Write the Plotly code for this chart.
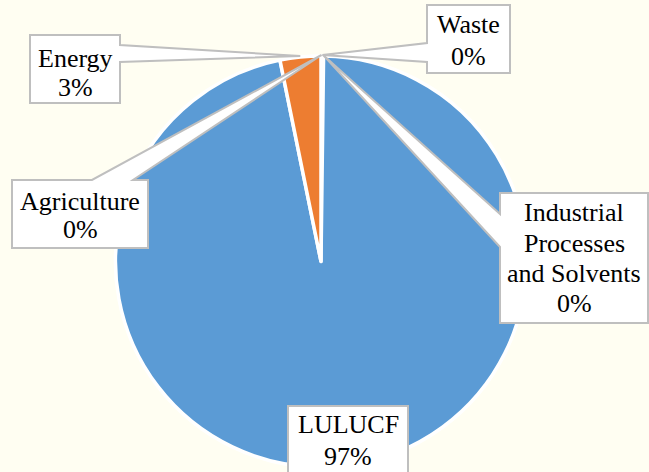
import math
import plotly.graph_objects as go

# ---- data ----
categories = ["Agriculture", "Waste", "Industrial<br>Processes<br>and Solvents", "LULUCF", "Energy"]
values = [0.08, 0.05, 0.07, 96.6, 3.2]
colors = ["#A5A5A5", "#FFC000", "#4472C4", "#5B9BD5", "#ED7D31"]

# ---- layout (pixels) ----
W, H = 649, 472
CX, CY, R = 321.0, 261.5, 205.5
BG = "#FFFEF2"
FONT = "Liberation Serif, Times New Roman, serif"
FS = 26

def px(x):
    return x / W

def py(y):
    return 1 - y / H

# callout boxes: box (x0, y0, x1, y1), tail (side, b0, b1), text centre x, baselines
callouts = {
    "Agriculture": dict(box=(12, 180, 148, 248), tail=("top", 92, 133), cx=80, base=[210, 238]),
    "Waste": dict(box=(427, 5, 510, 73), tail=("left", 43, 62), cx=468.5, base=[33, 65]),
    "Industrial<br>Processes<br>and Solvents": dict(box=(500, 193, 648, 323), tail=("left", 214, 247), cx=574,
                                                   base=[221, 252, 282, 312]),
    "LULUCF": dict(box=(288, 406, 408, 485), tail=None, cx=348, base=[433, 465]),
    "Energy": dict(box=(30, 35, 120, 103), tail=("right", 45, 62), cx=75, base=[67, 96]),
}

fig = go.Figure()
fig.add_trace(go.Pie(
    labels=categories, values=values, sort=False, direction="clockwise", rotation=0,
    marker=dict(colors=colors, line=dict(color="white", width=3.5)),
    textinfo="none", hoverinfo="label+percent", showlegend=False,
    domain=dict(x=[px(CX - R), px(CX + R)], y=[py(CY + R), py(CY - R)]),
))

total = sum(values)
cum = 0.0
shapes = []
annotations = []
for cat, v in zip(categories, values):
    mid = (cum + v / 2) / total * 2 * math.pi
    cum += v
    tx = CX + (R + 1) * math.sin(mid)
    ty = CY - (R + 1) * math.cos(mid)
    c = callouts[cat]
    x0, y0, x1, y1 = c["box"]
    t = c["tail"]
    if t is None:
        pts = [(x0, y0), (x1, y0), (x1, y1), (x0, y1)]
    elif t[0] == "right":
        pts = [(x0, y0), (x1, y0), (x1, t[1]), (tx, ty), (x1, t[2]), (x1, y1), (x0, y1)]
    elif t[0] == "left":
        pts = [(x0, y0), (x1, y0), (x1, y1), (x0, y1), (x0, t[2]), (tx, ty), (x0, t[1])]
    else:  # top
        pts = [(x0, y0), (t[1], y0), (tx, ty), (t[2], y0), (x1, y0), (x1, y1), (x0, y1)]
    path = "M " + " L ".join(f"{px(a):.5f},{py(b):.5f}" for a, b in pts) + " Z"
    shapes.append(dict(type="path", path=path, xref="paper", yref="paper",
                       fillcolor="white", line=dict(color="#BFBFBF", width=2), layer="above"))
    pct = round(v / total * 100)
    lines = cat.split("<br>") + [f"{pct}%"]
    for line, base in zip(lines, c["base"]):
        annotations.append(dict(text=line, x=px(c["cx"]), y=py(base - 8.5), xref="paper", yref="paper",
                                xanchor="center", yanchor="middle", showarrow=False,
                                font=dict(family=FONT, size=FS, color="black")))

fig.update_layout(
    width=W, height=H, margin=dict(l=0, r=0, t=0, b=0),
    font=dict(family=FONT),
    paper_bgcolor=BG, plot_bgcolor=BG,
    shapes=shapes, annotations=annotations,
)
fig.write_html("out.html", config={"displayModeBar": False},
               post_script="document.body.style.margin='0';document.body.style.overflow='hidden';")
